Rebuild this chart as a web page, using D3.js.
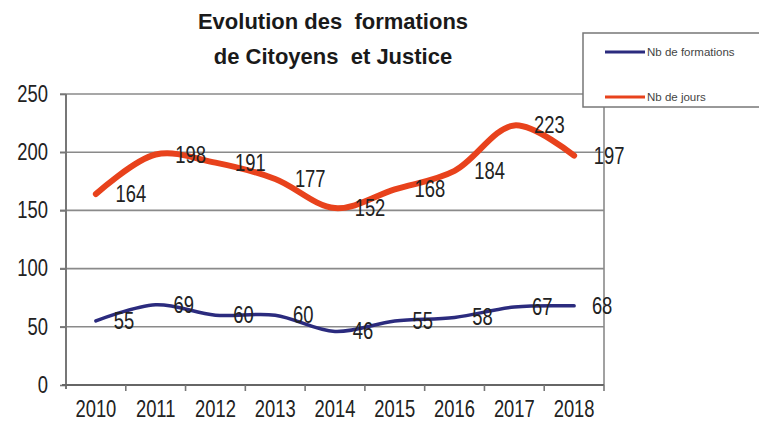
<!DOCTYPE html>
<html><head><meta charset="utf-8">
<script src="https://cdn.jsdelivr.net/npm/d3@7"></script>
<style>
html,body{margin:0;padding:0;background:#fff;}
svg{display:block;}
</style></head>
<body>
<script>
const years = ["2010","2011","2012","2013","2014","2015","2016","2017","2018"];
const formations = [55, 69, 60, 60, 46, 55, 58, 67, 68];
const jours = [164, 198, 191, 177, 152, 168, 184, 223, 197];
const yTicks = [0, 50, 100, 150, 200, 250];
const titleLines = ["Evolution des  formations", "de Citoyens  et Justice"];
const seriesNames = ["Nb de formations", "Nb de jours"];

const W = 759, H = 427;
const svg = d3.select("body").append("svg").attr("width", W).attr("height", H);
svg.append("rect").attr("width", W).attr("height", H).attr("fill", "#fff");

const numFont = "'Liberation Sans',Arial,sans-serif";
const NS = 23, SX = 0.8;

const x = d3.scaleBand().domain(years).range([66, 604]).padding(0);
const y = d3.scaleLinear().domain([0, 250]).range([385, 94]);
const cx = d => x(d) + x.bandwidth() / 2;

// gridlines
svg.append("g").selectAll("line").data(yTicks.filter(t => t > 0)).join("line")
  .attr("x1", 60).attr("x2", 604)
  .attr("y1", d => y(d)).attr("y2", d => y(d))
  .attr("stroke", "#8a8a8a").attr("stroke-width", 1.6);

// right border
svg.append("line").attr("x1", 604).attr("x2", 604).attr("y1", y(250)).attr("y2", y(0))
  .attr("stroke", "#8a8a8a").attr("stroke-width", 1.6);

// y axis
const yAxis = svg.append("g").attr("transform", "translate(66,0)")
  .call(d3.axisLeft(y).tickValues(yTicks).tickSize(6).tickPadding(18));
yAxis.select(".domain").attr("stroke", "#777").attr("stroke-width", 2).attr("d", `M0,${y(250)}V${y(0)+4}`);
yAxis.selectAll(".tick line").attr("stroke", "#777").attr("stroke-width", 1.6);
yAxis.selectAll(".tick text").attr("font-family", numFont).attr("font-size", NS).attr("fill", "#222")
  .attr("x", -18 / SX).attr("transform", `scale(${SX},1)`);

// x axis
const xAxis = svg.append("g").attr("transform", `translate(0,${y(0)})`)
  .call(d3.axisBottom(x).tickSize(0).tickPadding(16));
xAxis.select(".domain").attr("stroke", "#666").attr("stroke-width", 2.2).attr("d", "M62,0H604");
xAxis.selectAll(".tick text").attr("font-family", numFont).attr("font-size", NS).attr("fill", "#222")
  .attr("transform", `scale(${SX},1)`);
xAxis.selectAll("line.bound").data(years.slice(0, -1)).join("line").attr("class", "bound")
  .attr("x1", d => x(d) + x.bandwidth()).attr("x2", d => x(d) + x.bandwidth())
  .attr("y1", 0).attr("y2", 6).attr("stroke", "#777").attr("stroke-width", 1.6);
xAxis.append("line").attr("x1", 604).attr("x2", 604).attr("y1", 0).attr("y2", 6)
  .attr("stroke", "#777").attr("stroke-width", 1.6);

// lines
const line = d3.line().x((d, i) => cx(years[i])).y(d => y(d)).curve(d3.curveCatmullRom.alpha(0.5));
const series = [
  {name: seriesNames[0], values: formations, color: "#2b2b7e", width: 3.5, dx: 28},
  {name: seriesNames[1], values: jours, color: "#e8421c", width: 6, dx: 35}
];
series.forEach(s => {
  svg.append("path").datum(s.values).attr("d", line)
    .attr("fill", "none").attr("stroke", s.color).attr("stroke-width", s.width)
    .attr("stroke-linecap", "round").attr("stroke-linejoin", "round");
});
series.forEach(s => {
  svg.append("g").selectAll("text").data(s.values).join("text")
    .attr("transform", (d, i) => `translate(${cx(years[i]) + s.dx},${y(d) + 8}) scale(${SX},1)`)
    .attr("text-anchor", "middle")
    .attr("font-family", numFont).attr("font-size", NS).attr("fill", "#222")
    .text(d => d);
});

// title
svg.append("g").selectAll("text").data(titleLines).join("text")
  .attr("x", 333).attr("y", (d, i) => 29 + i * 35)
  .attr("text-anchor", "middle")
  .attr("font-family", "'Liberation Sans',Arial,sans-serif").attr("font-weight", "bold")
  .attr("font-size", 22).attr("fill", "#1a1a1a")
  .style("white-space", "pre")
  .text(d => d);

// legend
const lg = svg.append("g");
lg.append("rect").attr("x", 583).attr("y", 33).attr("width", 190).attr("height", 74)
  .attr("fill", "#fff").attr("stroke", "#777").attr("stroke-width", 1.5);
series.forEach((s, i) => {
  const ly = 52 + i * 45;
  lg.append("line").attr("x1", 605).attr("x2", 645).attr("y1", ly).attr("y2", ly)
    .attr("stroke", s.color).attr("stroke-width", 3);
  lg.append("text").attr("x", 647).attr("y", ly + 4)
    .attr("font-family", numFont).attr("font-size", 11.5).attr("fill", "#444")
    .text(s.name);
});
</script>
</body></html>
